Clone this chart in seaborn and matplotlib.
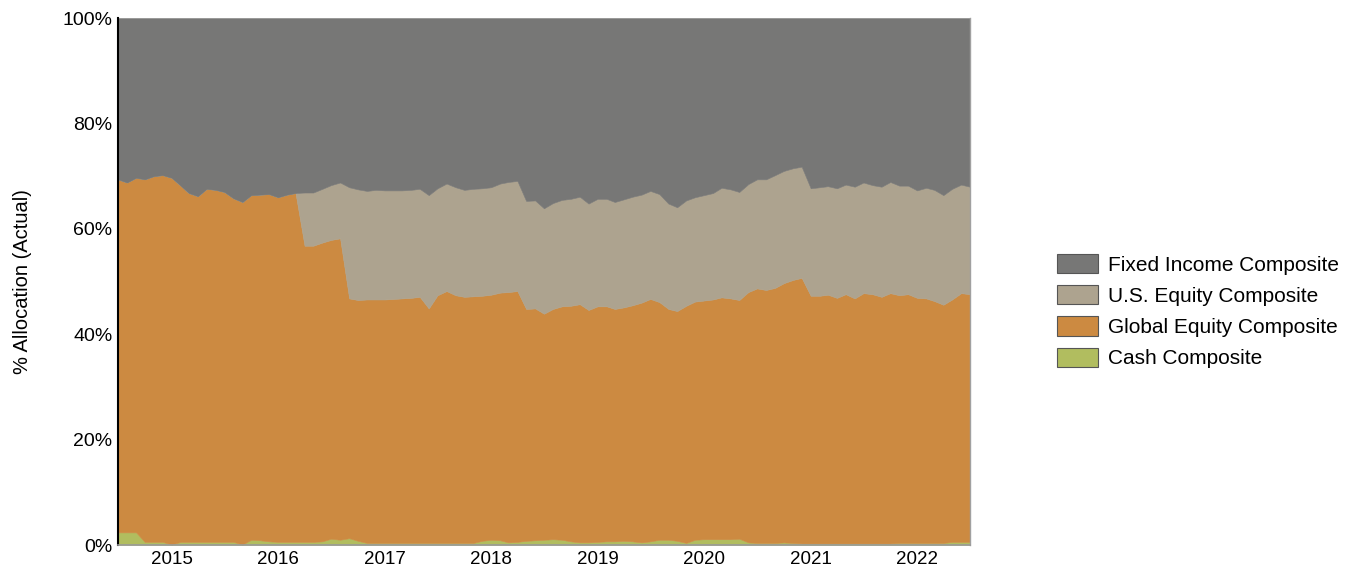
"""
Stacked area chart of actual asset allocation by composite, 2014-2022.
"""
import numpy as np
import pandas as pd
import matplotlib
matplotlib.use('Agg')
import matplotlib.pyplot as plt
import matplotlib.dates as mdates
from matplotlib.patches import Patch
from matplotlib.ticker import PercentFormatter
import seaborn as sns

# Monthly observation dates (month end)
dates = pd.date_range('2014-06-30', '2022-06-30', freq='ME')

# Allocation values in percent
cash = [2.4, 2.4, 2.4, 0.6, 0.6, 0.6, 0.1, 0.6, 0.6, 0.6, 0.6, 0.6, 0.6,
        0.6, 0.1, 1.0, 0.9, 0.7, 0.6, 0.6, 0.6, 0.6, 0.6, 0.7, 1.2, 1.0,
        1.3, 0.8, 0.4, 0.4, 0.4, 0.4, 0.4, 0.4, 0.4, 0.4, 0.4, 0.4, 0.4,
        0.4, 0.4, 0.8, 1.0, 0.9, 0.5, 0.6, 0.8, 0.9, 1.0, 1.1, 1.0, 0.7,
        0.5, 0.5, 0.6, 0.7, 0.7, 0.8, 0.7, 0.5, 0.7, 1.0, 1.0, 0.8, 0.4,
        1.0, 1.1, 1.1, 1.1, 1.1, 1.2, 0.5, 0.4, 0.4, 0.4, 0.5, 0.4, 0.3,
        0.3, 0.3, 0.3, 0.3, 0.3, 0.3, 0.3, 0.3, 0.3, 0.3, 0.4, 0.4, 0.4,
        0.4, 0.4, 0.4, 0.6, 0.6, 0.6]

global_equity = [67.0, 66.4, 67.3, 68.8, 69.4, 69.6, 69.6, 67.6, 66.2, 65.6,
                 67.0, 66.8, 66.4, 65.2, 65.0, 65.4, 65.6, 65.9, 65.4, 65.9,
                 66.2, 56.2, 56.2, 56.7, 56.7, 57.2, 45.5, 45.7, 46.2, 46.2,
                 46.2, 46.3, 46.4, 46.5, 46.7, 44.5, 47.0, 47.8, 47.0, 46.7,
                 46.8, 46.5, 46.5, 47.0, 47.5, 47.6, 44.0, 44.0, 42.9, 43.7,
                 44.3, 44.7, 45.2, 44.1, 44.7, 44.6, 44.1, 44.3, 44.8, 45.5,
                 46.0, 45.1, 43.8, 43.6, 45.0, 45.2, 45.3, 45.5, 45.9, 45.7,
                 45.3, 47.5, 48.3, 48.0, 48.4, 49.2, 49.9, 50.4, 47.0, 47.0,
                 47.2, 46.6, 47.3, 46.5, 47.5, 47.3, 46.8, 47.5, 47.0, 47.2,
                 46.5, 46.4, 45.9, 45.2, 46.0, 47.2, 47.0]

us_equity = [0.0] * 21 + [
    10.1, 10.1, 10.2, 10.4, 10.6, 21.1, 21.0, 20.6, 20.8, 20.7, 20.6, 20.5,
    20.5, 20.5, 21.5, 20.3, 20.4, 20.5, 20.3, 20.4, 20.4, 20.4, 20.7, 20.9,
    20.9, 20.5, 20.5, 20.0, 20.1, 20.2, 20.3, 20.4, 20.2, 20.4, 20.4, 20.3,
    20.5, 20.6, 20.5, 20.5, 20.5, 20.0, 19.7, 20.0, 19.8, 20.0, 20.2, 20.8,
    20.7, 20.5, 20.5, 20.7, 21.0, 21.4, 21.3, 21.2, 21.1, 20.4, 20.6, 20.6,
    20.8, 20.8, 21.2, 21.0, 20.7, 20.9, 21.1, 20.8, 20.6, 20.4, 21.0, 21.1,
    20.8, 21.0, 20.6, 20.4]

fixed_income = [30.6, 31.2, 30.3, 30.6, 30.0, 29.8, 30.3, 31.8, 33.2, 33.8,
                32.4, 32.6, 33.0, 34.2, 34.9, 33.6, 33.5, 33.4, 34.0, 33.5,
                33.2, 33.1, 33.1, 32.4, 31.7, 31.2, 32.1, 32.5, 32.8, 32.6,
                32.7, 32.7, 32.7, 32.6, 32.4, 33.6, 32.3, 31.4, 32.1, 32.6,
                32.4, 32.3, 32.1, 31.4, 31.1, 30.9, 34.7, 34.6, 36.1, 35.1,
                34.5, 34.3, 33.9, 35.2, 34.3, 34.3, 34.9, 34.4, 33.9, 33.5,
                32.8, 33.4, 35.2, 35.9, 34.6, 34.0, 33.6, 33.2, 32.2, 32.5,
                33.0, 31.5, 30.6, 30.6, 29.8, 29.0, 28.5, 28.2, 32.3, 32.1,
                31.9, 32.3, 31.6, 32.0, 31.2, 31.7, 32.0, 31.1, 31.8, 31.8,
                32.7, 32.2, 32.6, 33.6, 32.4, 31.6, 32.0]

series_names = ['Cash Composite', 'Global Equity Composite',
                'U.S. Equity Composite', 'Fixed Income Composite']
series_colors = ['#b1bd5f', '#cc8a41', '#ada38f', '#777776']
year_ticks = list(range(2015, 2023))

# Build the allocation table
allocation = pd.DataFrame({'Date': dates,
                           series_names[0]: cash,
                           series_names[1]: global_equity,
                           series_names[2]: us_equity,
                           series_names[3]: fixed_income})

# Theme
sns.set_theme(style='white')
plt.rcParams['font.family'] = ['Liberation Sans', 'DejaVu Sans']
plt.rcParams['text.color'] = 'black'

fig = plt.figure(figsize=(13.48, 5.74), dpi=100)
ax = fig.add_axes([0.0875, 0.0505, 0.632, 0.918])

# Stacked areas (thin same-colour edge hides the seams between layers)
areas = ax.stackplot(allocation['Date'],
                     *[allocation[name] for name in series_names],
                     colors=series_colors)
for area, color in zip(areas, series_colors):
    area.set_edgecolor(color)
    area.set_linewidth(0.4)

# Axes limits and ticks
ax.set_xlim(allocation['Date'].iloc[0], allocation['Date'].iloc[-1])
ax.set_ylim(0, 100)
ax.set_yticks(range(0, 101, 20))
ax.yaxis.set_major_formatter(PercentFormatter(decimals=0))
ax.set_xticks([pd.Timestamp(f'{y}-01-01') for y in year_ticks])
ax.xaxis.set_major_formatter(mdates.DateFormatter('%Y'))
ax.tick_params(axis='x', length=0, labelsize=13.5, colors='black', pad=4)
ax.tick_params(axis='y', length=0, labelsize=14, colors='black', pad=4)
ax.set_ylabel('% Allocation (Actual)', fontsize=14.5, labelpad=22,
              color='black')
ax.grid(False)

# Spines
ax.spines['top'].set_visible(False)
ax.spines['left'].set_color('black')
ax.spines['left'].set_linewidth(1.5)
ax.spines['bottom'].set_color('#9a9a9a')
ax.spines['bottom'].set_linewidth(1.2)
ax.spines['right'].set_color('#a0a0a0')
ax.spines['right'].set_linewidth(1.0)

# Legend, top layer first
legend_handles = [Patch(facecolor=c, edgecolor='#555555', linewidth=0.8)
                  for c in series_colors[::-1]]
fig.legend(legend_handles, series_names[::-1],
           loc='center left',
           bbox_to_anchor=(0.7705, 0.458),
           frameon=False,
           fontsize=15,
           handlelength=1.95,
           handleheight=1.05,
           handletextpad=0.5,
           labelspacing=0.5)

fig.savefig('out.png', dpi=100)
